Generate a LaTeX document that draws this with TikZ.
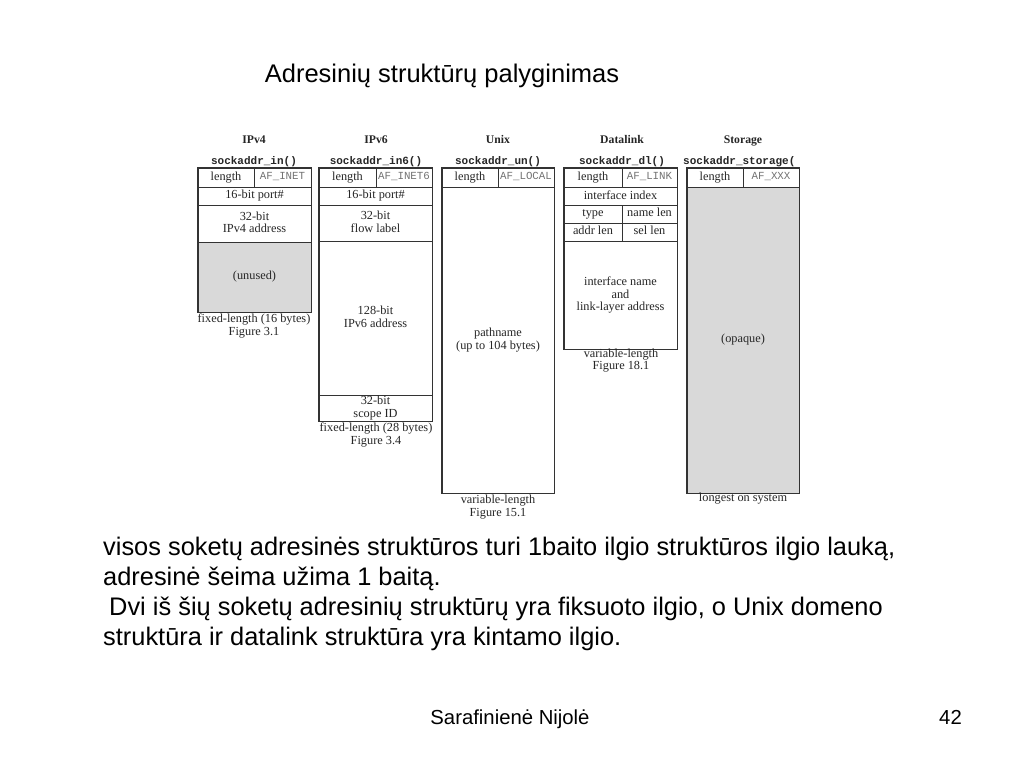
\documentclass[tikz,border=0pt]{standalone}
\usepackage{fontspec}
\setmainfont{Liberation Serif}
\setsansfont{Liberation Sans}
\setmonofont{Liberation Mono}
\definecolor{boxline}{gray}{0.2}
\definecolor{unusedfill}{gray}{0.85}
\definecolor{afgray}{gray}{0.45}
\tikzset{
  cellbox/.style={draw=boxline, line width=0.9pt, inner sep=0pt, align=center,
    font=\fontsize{12.3}{12.8}\selectfont, text=black!85},
  shaded/.style={fill=unusedfill},
  aflabel/.style={text=afgray, font=\ttfamily\fontsize{10.8}{11}\selectfont},
  outer/.style={draw=boxline, line width=1.4pt, inner sep=0pt},
  coltitle/.style={font=\bfseries\fontsize{11.7}{12}\selectfont, text=black!85, inner sep=0pt, anchor=base},
  structname/.style={font=\ttfamily\bfseries\fontsize{11}{12}\selectfont, text=black!85, inner sep=0pt, anchor=base},
  caption/.style={font=\fontsize{12.3}{12.8}\selectfont, align=center, text=black!85, inner sep=0pt},
  slidetext/.style={font=\sffamily\fontsize{25.4}{30}\selectfont, inner sep=0pt, anchor=base west},
}
% \cellx{name}{x1}{y1}{x2}{y2}{options}{text}
\newcommand\cellx[7]{\node[cellbox,#6, minimum width={#4-#2}, minimum height={#5-#3}] (#1) at ({(#2+#4)/2},{(#3+#5)/2}) {\vphantom{Ay}#7\vphantom{Ay}};}
\begin{document}
\begin{tikzpicture}[x=1pt,y=-1pt]
\useasboundingbox (0,0) rectangle (1024,768);
\fill[white] (0,0) rectangle (1024,768);

\node[font=\sffamily\fontsize{25.5}{30}\selectfont, anchor=base, inner sep=0pt] (title) at (442,82) {Adresinių struktūrų palyginimas};

% IPv4
\node[coltitle] (t4) at (254,143) {IPv4};
\node[structname] (s4) at (254,164) {sockaddr\_in()};
\cellx{v4len}{198}{168}{254}{187}{}{length}
\cellx{v4af}{254}{168}{311}{187}{aflabel}{AF\_INET}
\cellx{v4port}{198}{187}{311}{205}{}{16-bit port\#}
\cellx{v4addr}{198}{205}{311}{242}{}{32-bit\\IPv4 address}
\cellx{v4unused}{198}{242}{311}{312}{shaded}{(unused)}
\draw[outer] (v4len.north west) rectangle (v4unused.south east);
\node[caption] (c4) at (254,326) {fixed-length (16 bytes)\\Figure 3.1};

% IPv6
\node[coltitle] (t6) at (376,143) {IPv6};
\node[structname] (s6) at (376,164) {sockaddr\_in6()};
\cellx{v6len}{319}{168}{376}{187}{}{length}
\cellx{v6af}{376}{168}{432}{187}{aflabel}{AF\_INET6}
\cellx{v6port}{319}{187}{432}{205}{}{16-bit port\#}
\cellx{v6flow}{319}{205}{432}{241}{}{32-bit\\flow label}
\cellx{v6addr}{319}{241}{432}{395}{}{128-bit\\IPv6 address}
\cellx{v6scope}{319}{395}{432}{421}{}{32-bit\\scope ID}
\draw[outer] (v6len.north west) rectangle (v6scope.south east);
\node[caption] (c6) at (376,435) {fixed-length (28 bytes)\\Figure 3.4};

% Unix
\node[coltitle] (tu) at (498,143) {Unix};
\node[structname] (su) at (498,164) {sockaddr\_un()};
\cellx{unlen}{442}{168}{498}{187}{}{length}
\cellx{unaf}{498}{168}{554}{187}{aflabel}{AF\_LOCAL}
\cellx{unpath}{442}{187}{554}{493}{}{pathname\\(up to 104 bytes)}
\draw[outer] (unlen.north west) rectangle (unpath.south east);
\node[caption] (cu) at (498,507) {variable-length\\Figure 15.1};

% Datalink
\node[coltitle] (td) at (622,143) {Datalink};
\node[structname] (sd) at (622,164) {sockaddr\_dl()};
\cellx{dllen}{564}{168}{622}{187}{}{length}
\cellx{dlaf}{622}{168}{677}{187}{aflabel}{AF\_LINK}
\cellx{dlidx}{564}{187}{677}{205}{}{interface index}
\cellx{dltype}{564}{205}{622}{223}{}{type}
\cellx{dlnlen}{622}{205}{677}{223}{}{name len}
\cellx{dlalen}{564}{223}{622}{241}{}{addr len}
\cellx{dlslen}{622}{223}{677}{241}{}{sel len}
\cellx{dlname}{564}{241}{677}{349}{}{interface name\\and\\link-layer address}
\draw[outer] (dllen.north west) rectangle (dlname.south east);
\node[caption] (cd) at (621,360.5) {variable-length\\Figure 18.1};

% Storage
\node[coltitle] (ts) at (743,143) {Storage};
\node[structname, anchor=base west] (ss) at (683,164) {sockaddr\_storage(};
\cellx{stlen}{687}{168}{743}{187}{}{length}
\cellx{staf}{743}{168}{799}{187}{aflabel}{AF\_XXX}
\cellx{stopq}{687}{187}{799}{493}{shaded}{(opaque)}
\draw[outer] (stlen.north west) rectangle (stopq.south east);
\node[caption, anchor=base] (cs) at (743,501) {longest on system};

% slide text
\node[slidetext] (l1) at (103,555) {visos soketų adresinės struktūros turi 1baito ilgio struktūros ilgio lauką,};
\node[slidetext] (l2) at (103,585) {adresinė šeima užima 1 baitą.};
\node[slidetext] (l3) at (109,615) {Dvi iš šių soketų adresinių struktūrų yra fiksuoto ilgio, o Unix domeno};
\node[slidetext] (l4) at (103,645) {struktūra ir datalink struktūra yra kintamo ilgio.};

\node[font=\sffamily\fontsize{20.3}{24}\selectfont, anchor=base, inner sep=0pt] (author) at (510,724) {Sarafinienė Nijolė};
\node[font=\sffamily\fontsize{20.3}{24}\selectfont, anchor=base, inner sep=0pt] (page) at (950.5,724) {42};
\end{tikzpicture}
\end{document}
